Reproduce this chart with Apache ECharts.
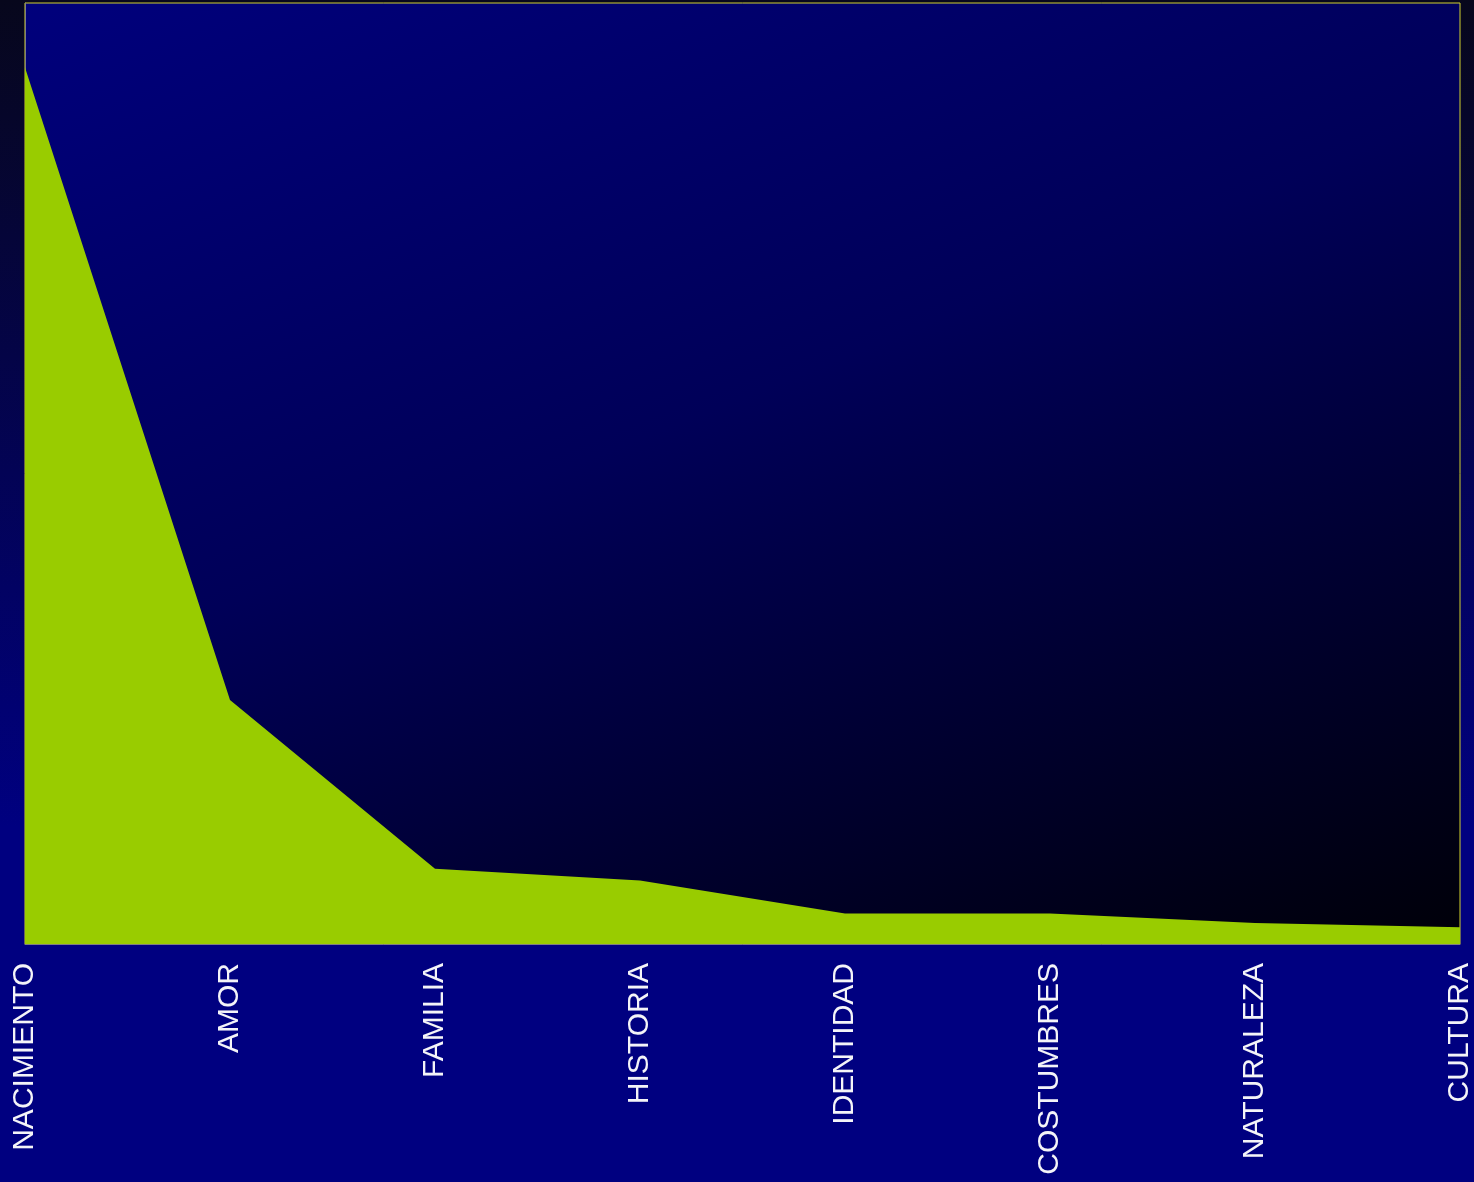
<!DOCTYPE html>
<html>
<head>
<meta charset="utf-8">
<script src="https://cdn.jsdelivr.net/npm/echarts@6/dist/echarts.min.js"></script>
<style>
html,body{margin:0;padding:0;width:1474px;height:1182px;overflow:hidden;background:#000080;}
#chart{width:1474px;height:1182px;}
</style>
</head>
<body>
<div id="chart"></div>
<script>
const categories = ['NACIMIENTO','AMOR','FAMILIA','HISTORIA','IDENTIDAD','COSTUMBRES','NATURALEZA','CULTURA'];
const values = [65.2, 18.15, 5.6, 4.72, 2.26, 2.26, 1.57, 1.25];
const yMax = 70;

const chart = echarts.init(document.getElementById('chart'), null, {renderer:'canvas'});
chart.setOption({
  animation: false,
  backgroundColor: new echarts.graphic.LinearGradient(0, 0, 0, 1, [
    {offset: 0, color: '#07071c'},
    {offset: 0.7, color: '#000080'},
    {offset: 1, color: '#000080'}
  ]),
  grid: {
    left: 25, right: 14, top: 3, bottom: 238,
    containLabel: false,
    outerBoundsMode: 'none',
    show: true,
    borderColor: '#d2d22e',
    borderWidth: 1,
    backgroundColor: new echarts.graphic.LinearGradient(0, 0, 0.364, 1.388, [
      {offset: 0, color: '#00007c'},
      {offset: 0.45, color: '#000058'},
      {offset: 1, color: '#000008'}
    ])
  },
  xAxis: {
    type: 'category',
    data: categories,
    boundaryGap: false,
    axisLine: {show: true, lineStyle: {color: '#808080', width: 1}},
    axisTick: {show: false},
    splitLine: {show: false},
    axisLabel: {
      rotate: 90,
      margin: 19,
      color: '#f4f4f8',
      fontSize: 30,
      fontFamily: '"Liberation Sans", Arial, sans-serif',
      interval: 0
    }
  },
  yAxis: {
    type: 'value',
    min: 0,
    max: yMax,
    axisLine: {show: true, lineStyle: {color: '#808080', width: 1}},
    axisTick: {show: false},
    axisLabel: {show: false},
    splitLine: {show: false}
  },
  series: [{
    type: 'line',
    data: values,
    symbol: 'none',
    lineStyle: {width: 0, color: '#99cc00'},
    itemStyle: {color: '#99cc00'},
    areaStyle: {color: '#99cc00', opacity: 1}
  }]
});
</script>
</body>
</html>
